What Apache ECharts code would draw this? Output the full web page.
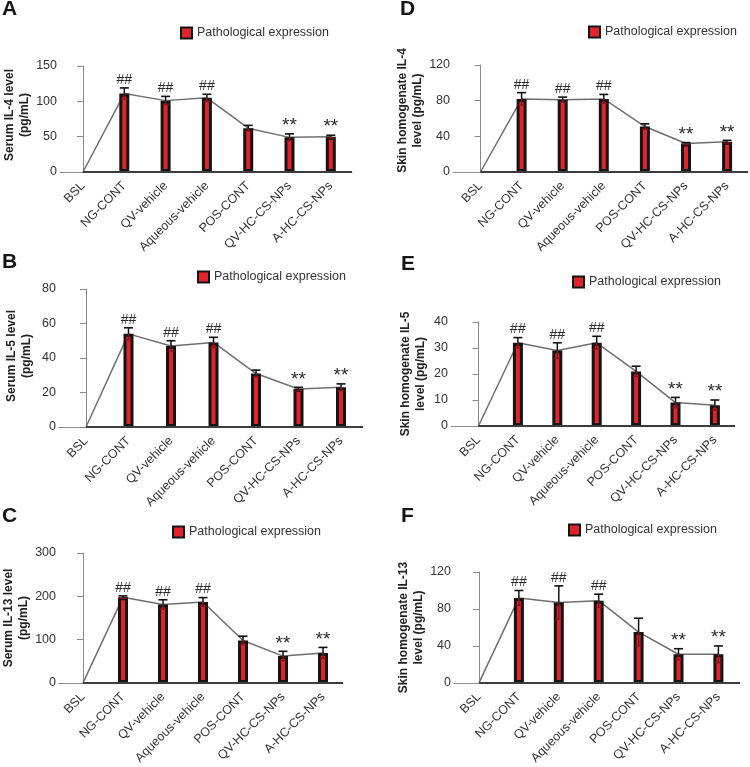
<!DOCTYPE html>
<html>
<head>
<meta charset="utf-8">
<script src="https://cdn.jsdelivr.net/npm/echarts@6/dist/echarts.min.js"></script>
<style>
html,body{margin:0;padding:0;background:#fff;}
#chart{width:750px;height:767px;}
</style>
</head>
<body>
<div id="chart"></div>
<script>
// ---------------- DATA ----------------
const categories = ['BSL', 'NG-CONT', 'QV-vehicle', 'Aqueous-vehicle', 'POS-CONT', 'QV-HC-CS-NPs', 'A-HC-CS-NPs'];
const marks = ['', '##', '##', '##', '', '**', '**'];
const legendName = 'Pathological expression';

const serumIL4 = [0, 111, 101, 105, 62, 49, 50];
const serumIL4Err = [0, 8, 6, 5, 4, 5, 2];
const serumIL4Ticks = [0, 50, 100, 150];

const skinIL4 = [0, 82, 81, 82, 51, 32, 34];
const skinIL4Err = [0, 7, 3, 5, 3, 1, 1.5];
const skinIL4Ticks = [0, 40, 80, 120];

const serumIL5 = [0, 54, 47, 49, 31, 22, 23];
const serumIL5Err = [0, 3.5, 3, 3, 2, 1, 2];
const serumIL5Ticks = [0, 20, 40, 60, 80];

const skinIL5 = [0, 32, 29, 32, 21, 9, 8];
const skinIL5Err = [0, 2, 3, 2.5, 2, 2, 2];
const skinIL5Ticks = [0, 10, 20, 30, 40];

const serumIL13 = [0, 198, 181, 187, 98, 62, 69];
const serumIL13Err = [0, 3, 11, 10, 10, 11, 13];
const serumIL13Ticks = [0, 100, 200, 300];

const skinIL13 = [0, 92, 87, 89, 55, 31, 31];
const skinIL13Err = [0, 8, 18, 7, 15, 6, 9];
const skinIL13Ticks = [0, 40, 80, 120];

// ---------------- PANELS / LAYOUT ----------------
const panels = [
  { letter: 'A', title: 'Serum IL-4 level\n(pg/mL)', values: serumIL4, err: serumIL4Err, ticks: serumIL4Ticks,
    L: { left: 60, end: 352, top: 66, zero: 172, a: 83, b: 41.3, nameGap: 27, nameUp: 4, legX: 180, legY: 33, letX: 2, letY: 9.5 } },
  { letter: 'D', title: 'Skin homogenate IL-4\nlevel (pg/mL)', values: skinIL4, err: skinIL4Err, ticks: skinIL4Ticks,
    L: { left: 453, end: 748, top: 65, zero: 172, a: 480.5, b: 41.1, nameGap: 22, nameUp: 8, legX: 588, legY: 32, letX: 400, letY: 9.5 } },
  { letter: 'B', title: 'Serum IL-5 level\n(pg/mL)', values: serumIL5, err: serumIL5Err, ticks: serumIL5Ticks,
    L: { left: 59, end: 363, top: 289, zero: 427, a: 86, b: 42.5, nameGap: 25, nameUp: 2, legX: 197, legY: 277, letX: 2, letY: 262.5 } },
  { letter: 'E', title: 'Skin homogenate IL-5\nlevel (pg/mL)', values: skinIL5, err: skinIL5Err, ticks: skinIL5Ticks,
    L: { left: 451, end: 735, top: 322, zero: 426, a: 478.5, b: 39.4, nameGap: 23, nameUp: 0, legX: 572, legY: 282, letX: 401, letY: 264 } },
  { letter: 'C', title: 'Serum IL-13 level\n(pg/mL)', values: serumIL13, err: serumIL13Err, ticks: serumIL13Ticks,
    L: { left: 59, end: 343, top: 553, zero: 687, a: 83, b: 40, nameGap: 25, nameUp: 0, legX: 172, legY: 532, letX: 2, letY: 516 } },
  { letter: 'F', title: 'Skin homogenate IL-13\nlevel (pg/mL)', values: skinIL13, err: skinIL13Err, ticks: skinIL13Ticks,
    L: { left: 454, end: 740, top: 572, zero: 688, a: 479, b: 39.9, nameGap: 26, nameUp: 0, legX: 568, legY: 530, letX: 401, letY: 516.5 } }
];

const FONT = '"Liberation Sans", Arial, Helvetica, sans-serif';
const AXIS_GRAY = '#8a8a8a';

const grids = [], xAxes = [], yAxes = [], series = [], legends = [], graphics = [];

panels.forEach((p, k) => {
  const L = p.L;
  const xmin = (L.left - L.a) / L.b;
  const xmax = (L.end - L.a) / L.b;
  const tickIdx = categories.map((c, i) => i);
  grids.push({ left: L.left, top: L.top, width: L.end - L.left, height: L.zero - L.top, containLabel: false });
  xAxes.push({
    type: 'value', gridIndex: k, min: xmin, max: xmax,
    axisLine: { show: true, lineStyle: { color: AXIS_GRAY, width: 1 } },
    axisTick: { show: false, customValues: tickIdx },
    splitLine: { show: false },
    axisLabel: {
      customValues: tickIdx, rotate: 45, margin: 12, fontSize: 12.5, color: '#333', fontFamily: FONT,
      hideOverlap: false,
      formatter: v => categories[Math.round(v)] || ''
    }
  });
  const tmax = p.ticks[p.ticks.length - 1];
  const tint = p.ticks[1] - p.ticks[0];
  yAxes.push({
    type: 'value', gridIndex: k, min: p.ticks[0], max: tmax, interval: tint,
    axisLine: { show: true, lineStyle: { color: AXIS_GRAY, width: 1 } },
    axisTick: { show: true, length: 6, lineStyle: { color: AXIS_GRAY } },
    splitLine: { show: false },
    axisLabel: { fontSize: 12.5, color: '#333', margin: 3, fontFamily: FONT },
    name: p.title, nameLocation: 'middle', nameGap: L.nameGap,
    nameTextStyle: { fontSize: 12, fontWeight: 'bold', color: '#222', lineHeight: 15, fontFamily: FONT,
      padding: [0, 0, 0, L.nameUp * 2] }
  });

  const lineData = p.values.map((v, i) => [i, v]);
  const barData = p.values.map((v, i) => v === 0 ? [i, '-'] : [i, v]);
  const errData = p.values.map((v, i) => [i, v, p.err[i]]);

  series.push({
    type: 'line', name: 'trend' + k, xAxisIndex: k, yAxisIndex: k, data: lineData,
    symbol: 'none', z: 1, silent: true,
    lineStyle: { color: '#6f6f6f', width: 1.5 },
    markLine: {
      silent: true, symbol: 'none', label: { show: false },
      lineStyle: { color: '#3c3c3c', width: 2, type: 'solid' },
      data: [[{ coord: [0, 0] }, { coord: [xmax, 0] }]]
    }
  });
  series.push({
    type: 'bar', name: legendName, xAxisIndex: k, yAxisIndex: k, data: barData,
    barWidth: 10, z: 2,
    itemStyle: { color: '#e3232b', borderColor: '#141414', borderWidth: 3 }
  });
  series.push({
    type: 'custom', name: 'err' + k, xAxisIndex: k, yAxisIndex: k, data: errData, z: 3, silent: true,
    encode: { x: 0, y: 1 },
    renderItem: (params, api) => {
      const i = api.value(0), v = api.value(1), e = api.value(2);
      if (!e) return null;
      const top = api.coord([i, v + e]);
      const mid = api.coord([i, v]);
      const bot = api.coord([i, Math.max(0, v - e)]);
      const hw = 4.5;
      const children = [
        { type: 'line', shape: { x1: top[0], y1: top[1], x2: mid[0], y2: mid[1] }, style: { stroke: '#111', lineWidth: 1.5 } },
        { type: 'line', shape: { x1: top[0] - hw, y1: top[1], x2: top[0] + hw, y2: top[1] }, style: { stroke: '#111', lineWidth: 1.6 } },
        { type: 'line', shape: { x1: mid[0], y1: mid[1], x2: bot[0], y2: bot[1] }, style: { stroke: '#8a1216', lineWidth: 1.5 } },
        { type: 'line', shape: { x1: bot[0] - 3.5, y1: bot[1], x2: bot[0] + 3.5, y2: bot[1] }, style: { stroke: '#8a1216', lineWidth: 1.2 } }
      ];
      const m = marks[i];
      if (m) {
        children.push({
          type: 'text', x: top[0], y: top[1] - 8,
          style: { text: m, fill: '#2a2a2a', textAlign: 'center', textVerticalAlign: 'middle',
            font: (m === '**' ? '19px ' : '14px ') + FONT }
        });
      }
      return { type: 'group', children };
    }
  });

  legends.push({
    data: [legendName], left: L.legX, top: L.legY - 7, padding: 0, icon: 'rect',
    itemWidth: 11, itemHeight: 11, selectedMode: false,
    textStyle: { fontSize: 12.5, color: '#333', lineHeight: 14, fontFamily: FONT }
  });

  graphics.push({
    type: 'text', x: L.letX, y: L.letY,
    style: { text: p.letter, font: 'bold 21px ' + FONT, fill: '#151515', textAlign: 'left', textVerticalAlign: 'middle' }
  });
});

const chart = echarts.init(document.getElementById('chart'), null, { renderer: 'canvas' });
chart.setOption({
  backgroundColor: '#ffffff',
  animation: false,
  textStyle: { fontFamily: FONT },
  grid: grids,
  xAxis: xAxes,
  yAxis: yAxes,
  legend: legends,
  graphic: graphics,
  series: series
});
</script>
</body>
</html>
